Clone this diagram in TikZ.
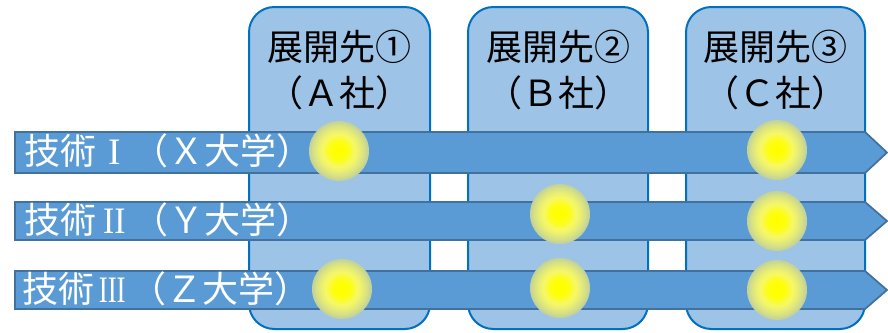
\documentclass[tikz,border=0pt]{standalone}
\usepackage{fontspec}
\newfontfamily\jp{Noto Sans CJK JP}
\newfontfamily\rmn{Liberation Serif}
\definecolor{boxfill}{HTML}{9DC3E6}
\definecolor{boxline}{HTML}{0070C0}
\definecolor{arrfill}{HTML}{5B9BD5}
\definecolor{arrline}{HTML}{41719C}
\definecolor{ballc}{HTML}{FFFF00}
\definecolor{ballm}{HTML}{F6F866}
\definecolor{ballo}{HTML}{C2D29A}
\newcommand{\rnum}[2][1]{\makebox[27pt]{\rmn\fontsize{28pt}{28pt}\selectfont\scalebox{#1}[1]{#2}}}
\newcommand{\ballat}[1]{%
  \foreach \k in {24,23,...,1}{%
    \ifnum\k>13
      \pgfmathtruncatemacro{\p}{100*((\k-13)/11)^1.4}%
      \fill[ballo!\p!ballm] (#1.center) circle ({22.5pt*\k/24});%
    \else
      \pgfmathtruncatemacro{\p}{100*(\k/13)^3}%
      \fill[ballm!\p!ballc] (#1.center) circle ({22.5pt*\k/24});%
    \fi
  }%
}
\tikzset{
  colbox/.style={draw=boxline, line width=1.5pt, fill=boxfill, rounded corners=19pt},
  arrowbar/.style={draw=arrline, line width=1.3pt, fill=arrfill},
  rowlabel/.style={anchor=west, text=white, font=\jp\fontsize{27pt}{28pt}\selectfont, inner sep=0pt},
  headlabel/.style={align=center, text=black, font=\jp\fontsize{27pt}{35pt}\selectfont, inner sep=0pt},
  ball/.style={circle, minimum size=45pt, inner sep=0pt}
}
\begin{document}
\begin{tikzpicture}[x=0.75pt,y=-0.75pt]
\useasboundingbox (0,0) rectangle (888,332);
% column boxes
\draw[colbox] (249,7) rectangle (430,329);
\draw[colbox] (468,7) rectangle (648,329);
\draw[colbox] (686,7) rectangle (865,329);
\node[headlabel] (h1) at (339.5,70) {展開先①\\（Ａ社）};
\node[headlabel] (h2) at (558,70) {展開先②\\（Ｂ社）};
\node[headlabel] (h3) at (775.5,70) {展開先③\\（Ｃ社）};
% arrows
\draw[arrowbar] (15,132) -- (865,132) -- (887,152.5) -- (865,173) -- (15,173) -- cycle;
\draw[arrowbar] (15,202) -- (865,202) -- (887,221) -- (865,240) -- (15,240) -- cycle;
\draw[arrowbar] (15,271) -- (865,271) -- (887,290) -- (865,309) -- (15,309) -- cycle;
\node[rowlabel] (r1) at (24,151) {技術\rnum{I}（Ｘ大学）};
\node[rowlabel] (r2) at (24,220) {技術\rnum[0.9]{II}（Ｙ大学）};
\node[rowlabel] (r3) at (22,289) {技術\rnum[0.72]{III}（Ｚ大学）};
% balls
\node[ball] (b11) at (339,151) {};
\node[ball] (b13) at (777,150) {};
\node[ball] (b22) at (560,214) {};
\node[ball] (b23) at (777,221) {};
\node[ball] (b31) at (342,289) {};
\node[ball] (b32) at (560,288) {};
\node[ball] (b33) at (777,290) {};
\ballat{b11}\ballat{b13}\ballat{b22}\ballat{b23}\ballat{b31}\ballat{b32}\ballat{b33}
\end{tikzpicture}
\end{document}
